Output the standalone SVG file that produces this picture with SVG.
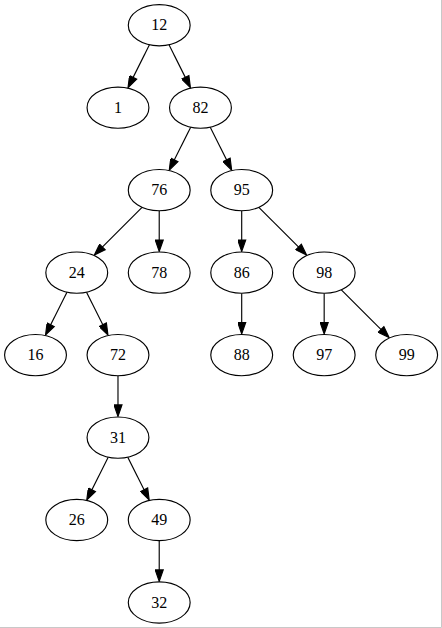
<svg xmlns="http://www.w3.org/2000/svg" width="442" height="628" viewBox="0 0 442 628">
<defs>
<marker id="arr" markerUnits="userSpaceOnUse" markerWidth="12" markerHeight="9" refX="0.5" refY="4.5" orient="auto" viewBox="-1 -1 12 9">
<path d="M0,1 L10,4.5 L0,8 z" fill="#000" stroke="#000" stroke-width="1"/>
</marker>
<style>
.n ellipse{fill:#fff;stroke:#000;stroke-width:1}
.n text{font-family:"Liberation Serif","Times New Roman",serif;font-size:14px;text-anchor:middle;fill:#000}
#edges line{stroke:#000;stroke-width:1;marker-end:url(#arr)}
</style>
</defs>
<rect width="442" height="628" fill="#fff"/>
<path d="M0,627.5 H441.5 V0" fill="none" stroke="#c8c8c8" stroke-width="1"/>
<g transform="scale(1.1455)">
<g id="edges">
<line x1="130.46" y1="39.08" x2="116.01" y2="67.98"/>
<line x1="147.54" y1="39.08" x2="161.99" y2="67.98"/>
<line x1="166.46" y1="111.08" x2="152.01" y2="139.98"/>
<line x1="183.54" y1="111.08" x2="197.99" y2="139.98"/>
<line x1="124.02" y1="180.98" x2="89.05" y2="215.95"/>
<line x1="139" y1="184" x2="139" y2="210"/>
<line x1="211" y1="184" x2="211" y2="210"/>
<line x1="225.98" y1="180.98" x2="260.95" y2="215.95"/>
<line x1="58.46" y1="255.08" x2="44.01" y2="283.98"/>
<line x1="75.54" y1="255.08" x2="89.99" y2="283.98"/>
<line x1="211" y1="256" x2="211" y2="282"/>
<line x1="283" y1="256" x2="283" y2="282"/>
<line x1="297.98" y1="252.98" x2="332.95" y2="287.95"/>
<line x1="103" y1="328" x2="103" y2="354"/>
<line x1="94.46" y1="399.08" x2="80.01" y2="427.98"/>
<line x1="111.54" y1="399.08" x2="125.99" y2="427.98"/>
<line x1="139" y1="472" x2="139" y2="498"/>
</g>
<g id="n12" class="n"><ellipse cx="139" cy="22" rx="27" ry="18"/><text x="139" y="26.5">12</text></g>
<g id="n1" class="n"><ellipse cx="103" cy="94" rx="27" ry="18"/><text x="103" y="98.5">1</text></g>
<g id="n82" class="n"><ellipse cx="175" cy="94" rx="27" ry="18"/><text x="175" y="98.5">82</text></g>
<g id="n76" class="n"><ellipse cx="139" cy="166" rx="27" ry="18"/><text x="139" y="170.5">76</text></g>
<g id="n95" class="n"><ellipse cx="211" cy="166" rx="27" ry="18"/><text x="211" y="170.5">95</text></g>
<g id="n24" class="n"><ellipse cx="67" cy="238" rx="27" ry="18"/><text x="67" y="242.5">24</text></g>
<g id="n78" class="n"><ellipse cx="139" cy="238" rx="27" ry="18"/><text x="139" y="242.5">78</text></g>
<g id="n86" class="n"><ellipse cx="211" cy="238" rx="27" ry="18"/><text x="211" y="242.5">86</text></g>
<g id="n98" class="n"><ellipse cx="283" cy="238" rx="27" ry="18"/><text x="283" y="242.5">98</text></g>
<g id="n16" class="n"><ellipse cx="31" cy="310" rx="27" ry="18"/><text x="31" y="314.5">16</text></g>
<g id="n72" class="n"><ellipse cx="103" cy="310" rx="27" ry="18"/><text x="103" y="314.5">72</text></g>
<g id="n88" class="n"><ellipse cx="211" cy="310" rx="27" ry="18"/><text x="211" y="314.5">88</text></g>
<g id="n97" class="n"><ellipse cx="283" cy="310" rx="27" ry="18"/><text x="283" y="314.5">97</text></g>
<g id="n99" class="n"><ellipse cx="355" cy="310" rx="27" ry="18"/><text x="355" y="314.5">99</text></g>
<g id="n31" class="n"><ellipse cx="103" cy="382" rx="27" ry="18"/><text x="103" y="386.5">31</text></g>
<g id="n26" class="n"><ellipse cx="67" cy="454" rx="27" ry="18"/><text x="67" y="458.5">26</text></g>
<g id="n49" class="n"><ellipse cx="139" cy="454" rx="27" ry="18"/><text x="139" y="458.5">49</text></g>
<g id="n32" class="n"><ellipse cx="139" cy="526" rx="27" ry="18"/><text x="139" y="530.5">32</text></g>
</g>
</svg>
